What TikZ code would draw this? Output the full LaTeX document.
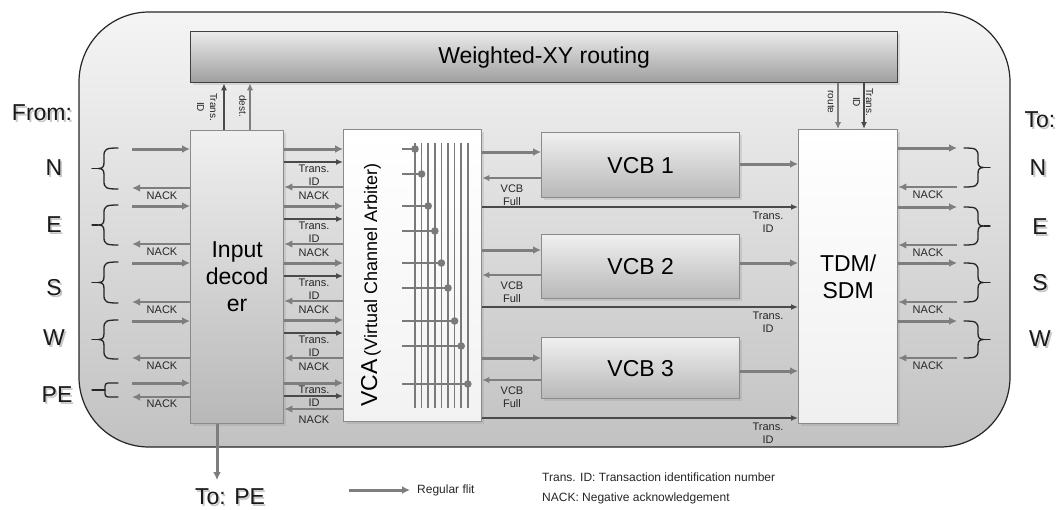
\documentclass[tikz,border=0pt]{standalone}
\usepackage{fontspec}
\setmainfont{Liberation Sans}
\usetikzlibrary{arrows.meta,shadows}

\definecolor{flitgray}{HTML}{7E7E7E}
\definecolor{idline}{HTML}{4A4A4A}
\definecolor{boxedge}{HTML}{8A8A8A}
\definecolor{xbargray}{HTML}{7A7A7A}

\tikzset{
  flit/.style={draw=flitgray, line width=3pt, -{Latex[length=8pt,width=8pt]}},
  nack/.style={draw=flitgray, line width=2.6pt, -{Latex[length=8pt,width=7.5pt]}},
  tid/.style={draw=idline, line width=1.6pt, -{Latex[length=7pt,width=6pt]}},
  full/.style={draw=flitgray, line width=2.3pt, -{Latex[length=7pt,width=6.5pt]}},
  lbl/.style={font=\fontsize{11}{13}\selectfont, text=black!85, align=center, inner sep=0pt},
  rotlbl/.style={font=\fontsize{10}{13}\selectfont, text=black!85, align=center, inner sep=0pt, rotate=-90},
  big/.style={font=\fontsize{23}{27}\selectfont, inner sep=0pt, align=center},
  port/.style={big, text=black!90},
  unit/.style={draw=boxedge, line width=1.3pt, inner sep=0pt, anchor=north west, big,
    drop shadow={shadow xshift=2pt, shadow yshift=-2pt, opacity=0.2}},
  brk/.style={draw=black!85, line width=1.3pt, line cap=round},
  legendtext/.style={font=\fontsize{12}{14}\selectfont, text=black!85, anchor=west, inner sep=0pt},
}

\begin{document}
\begin{tikzpicture}[x=1pt,y=-1pt]
\useasboundingbox (0,0) rectangle (1059,509);

% router outline
\path[draw=black!85, line width=1.2pt, rounded corners=70pt,
      top color=black!4, bottom color=black!24] (79,12) rectangle (1010,447);

% functional blocks
\node[unit, draw=black!75, minimum width=707pt, minimum height=51pt,
      top color=black!8, bottom color=black!38] (wxy) at (190,31) {Weighted-XY routing};
\node[unit, minimum width=93pt, minimum height=293pt,
      top color=black!6, bottom color=black!28] (dec) at (190,130) {Input\\decod\\er};
\node[unit, minimum width=138pt, minimum height=292pt,
      top color=white, bottom color=black!5] (vca) at (343,129) {};
\node[rotate=90, inner sep=0pt] (vcatext) at (371,285)
      {{\fontsize{23}{27}\selectfont VCA} {\fontsize{18}{20}\selectfont(Virtual Channel Arbiter)}};
\node[unit, minimum width=198pt, minimum height=65pt,
      top color=black!6, bottom color=black!28] (vcb1) at (541,132) {VCB 1};
\node[unit, minimum width=198pt, minimum height=64pt,
      top color=black!6, bottom color=black!28] (vcb2) at (541,234) {VCB 2};
\node[unit, minimum width=198pt, minimum height=61pt,
      top color=black!6, bottom color=black!28] (vcb3) at (541,337) {VCB 3};
\node[unit, minimum width=99pt, minimum height=294pt,
      top color=white, bottom color=black!6] (tdm) at (798,129) {TDM/\\SDM};

% crossbar inside the arbiter
\foreach \i in {0,...,8} {
  \pgfmathsetmacro\xx{415+6.6*\i}
  \draw[draw=xbargray, line width=1.5pt] (\xx,143) -- (\xx,408);
}
\foreach \i/\y in {0/149,1/174,2/206,3/231,4/263,5/288,6/321,7/346,8/384} {
  \pgfmathsetmacro\xx{415+6.6*\i}
  \draw[draw=xbargray, line width=2.6pt] (402,\y) -- (\xx,\y);
  \fill[fill=xbargray] (\xx,\y) circle (3.8pt);
}

% port labels
\foreach \n/\t/\x/\y in {from/From:/42/113, lN/N/54/168, lE/E/54/225, lS/S/54/288,
                         lW/W/54/338, lPE/PE/57/395, to/To:/1040/120, rN/N/1038/168,
                         rE/E/1040/227, rS/S/1040/283, rW/W/1040/339} {
  \node[port, text=black, text opacity=0.22] (\n sh) at (\x+1.8,\y+1.8) {\t};
  \node[port] (\n) at (\x,\y) {\t};
}

% input ports N, E, S, W
\foreach \i/\a/\b in {1/149/188, 2/206/244, 3/263/302, 4/321/358} {
  \pgfmathsetmacro\m{(\a+\b)/2}
  \coordinate (li\i) at (132,\a);
  \coordinate (lo\i) at (132,\b);
  \draw[flit] (li\i) -- (dec.west |- li\i);
  \draw[nack] (dec.west |- lo\i) -- (lo\i);
  \node[lbl] (lnack\i) at (162,\b+7.5) {NACK};
  \draw[brk] (118,\a-1) .. controls (106,\a-1) and (104,\a) .. (104,\a+7)
    -- (104,\m-6) .. controls (104,\m-1) and (102,\m) .. (98,\m)
    .. controls (102,\m) and (104,\m+1) .. (104,\m+6)
    -- (104,\b-7) .. controls (104,\b) and (106,\b+1) .. (118,\b+1);
  \draw[brk] (98,\m) -- (92,\m);
}

% local input port
\coordinate (li5) at (132,383);
\coordinate (lo5) at (132,397);
\draw[flit] (li5) -- (dec.west |- li5);
\draw[nack] (dec.west |- lo5) -- (lo5);
\node[lbl] (lnack5) at (162,404) {NACK};
\draw[brk, rounded corners=3pt] (118,383) -- (105,383) -- (105,397) -- (118,397);
\draw[brk] (92,390) -- (105,390);

% output ports N, E, S, W
\foreach \i/\a/\b in {1/148/187, 2/207/245, 3/263/302, 4/321/358} {
  \pgfmathsetmacro\m{(\a+\b)/2}
  \coordinate (ro\i) at (957,\a);
  \coordinate (ri\i) at (957,\b);
  \draw[flit] (tdm.east |- ro\i) -- (ro\i);
  \draw[nack] (ri\i) -- (tdm.east |- ri\i);
  \node[lbl] (rnack\i) at (928,\b+7.5) {NACK};
  \draw[brk] (964,\a) .. controls (976,\a) and (978,\a+1) .. (978,\a+8)
    -- (978,\m-6) .. controls (978,\m-1) and (980,\m) .. (984,\m)
    .. controls (980,\m) and (978,\m+1) .. (978,\m+6)
    -- (978,\b-8) .. controls (978,\b-1) and (976,\b) .. (964,\b);
  \draw[brk] (984,\m) -- (990,\m);
}

% input decoder to arbiter
\foreach \i/\y in {1/149, 2/206, 3/263, 4/320} {
  \pgfmathsetmacro\yt{\y+13}
  \pgfmathsetmacro\yn{\y+38}
  \draw[flit] (dec.east |- 0,\y) -- (vca.west |- 0,\y);
  \draw[tid] (dec.east |- 0,\yt) -- (vca.west |- 0,\yt);
  \draw[nack] (vca.west |- 0,\yn) -- (dec.east |- 0,\yn);
  \node[lbl] (dtid\i) at (314,\y+26.5) {Trans.\\ID};
  \node[lbl] (dnack\i) at (314,\y+47) {NACK};
}
\draw[flit] (dec.east |- 0,383) -- (vca.west |- 0,383);
\draw[tid] (dec.east |- 0,396) -- (vca.west |- 0,396);
\draw[nack] (vca.west |- 0,409) -- (dec.east |- 0,409);
\node[lbl] (dtid5) at (314,396) {Trans.\\ID};
\node[lbl] (dnack5) at (314,420) {NACK};

% arbiter to buffers and crossbar switch
\foreach \k/\yi/\yf/\yt/\yo in {1/152/178/207/164, 2/250/275/307/263, 3/358/380/418/371} {
  \draw[flit] (vca.east |- 0,\yi) -- (vcb\k.west |- 0,\yi);
  \draw[full] (vcb\k.west |- 0,\yf) -- (vca.east |- 0,\yf);
  \node[lbl] (full\k) at (512,\yf+17) {VCB\\Full};
  \draw[tid] (vca.east |- 0,\yt) -- (tdm.west |- 0,\yt);
  \node[lbl] (ttid\k) at (768,\yt+15) {Trans.\\ID};
  \draw[flit] (vcb\k.east |- 0,\yo) -- (tdm.west |- 0,\yo);
}

% routing unit links
\draw[tid] (dec.north -| 224,0) -- (wxy.south -| 224,0);
\draw[full, line width=1.8pt] (dec.north -| 250,0) -- (wxy.south -| 250,0);
\node[rotlbl] (uptid) at (207,107) {Trans.\\ID};
\node[rotlbl] (updest) at (243,106) {dest.};
\draw[full, line width=1.8pt] (wxy.south -| 838,0) -- (tdm.north -| 838,0);
\draw[tid] (wxy.south -| 864,0) -- (tdm.north -| 864,0);
\node[rotlbl] (dnroute) at (831,102) {route};
\node[rotlbl] (dntid) at (863,102) {Trans.\\ID};

% ejection to the local PE
\coordinate (peend) at (217,480);
\draw[flit] (dec.south -| peend) -- (peend);
\node[port, text=black, text opacity=0.22] (topesh) at (231.5,498.5) {To: PE};
\node[port] (tope) at (230,497) {To: PE};

% legend
\coordinate (lgstart) at (349,490);
\node[legendtext] (lgflit) at (417,490) {Regular flit};
\draw[flit] (lgstart) -- ([xshift=-7pt]lgflit.west);
\node[legendtext] (lgtid) at (542,477) {Trans. ID: Transaction identification number};
\node[legendtext] (lgnack) at (542,498) {NACK: Negative acknowledgement};
\end{tikzpicture}
\end{document}
